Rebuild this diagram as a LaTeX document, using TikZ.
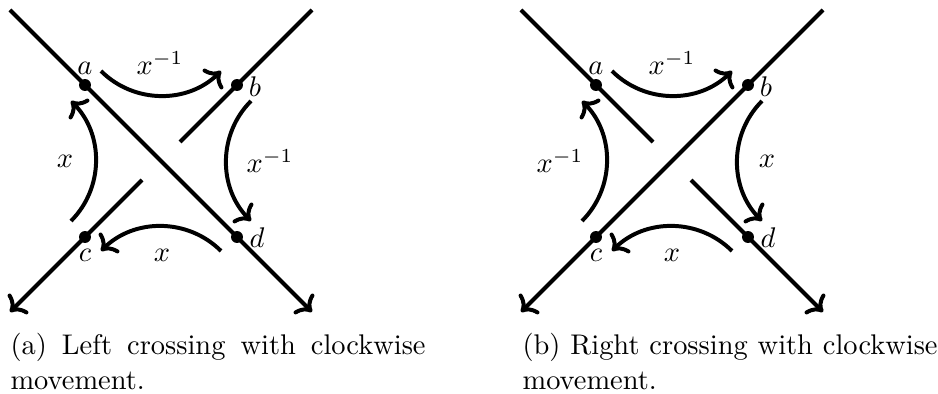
\documentclass[tikz,border=0pt]{standalone}
\usetikzlibrary{arrows.meta}
\newcommand\crossbase{%
  \coordinate (nw) at (-151,-151);
  \coordinate (ne) at (151,-151);
  \coordinate (sw) at (-151,151);
  \coordinate (se) at (151,151);
  \coordinate (gnw) at (-19,-19);
  \coordinate (gne) at (19,-19);
  \coordinate (gsw) at (-19,19);
  \coordinate (gse) at (19,19);
  \node[dot] (a) at (-76,-76) {};
  \node[dot] (b) at (76,-76) {};
  \node[dot] (c) at (-76,76) {};
  \node[dot] (d) at (76,76) {};
  \node[anchor=base] (la) at (-76,-86) {$a$};
  \node[anchor=base] (lb) at (94,-64) {$b$};
  \node[anchor=base] (lc) at (-76,101) {$c$};
  \node[anchor=base] (ld) at (96,87) {$d$};
  \coordinate (tA) at (-60,-90);
  \coordinate (tB) at (60,-90);
  \coordinate (rA) at (90,-60);
  \coordinate (rB) at (90,60);
  \coordinate (bA) at (60,90);
  \coordinate (bB) at (-60,90);
  \coordinate (lA) at (-90,60);
  \coordinate (lB) at (-90,-60);
  \draw[move] (tA) .. controls +(33,33) and +(-33,33) .. (tB);
  \draw[move] (rA) .. controls +(-33,33) and +(-33,-33) .. (rB);
  \draw[move] (bA) .. controls +(-33,-33) and +(33,-33) .. (bB);
  \draw[move] (lA) .. controls +(33,-33) and +(33,33) .. (lB);
}
\begin{document}
\begin{tikzpicture}[x=0.3518pt,y=-0.3518pt,
  strand/.style={line width=1.4pt},
  move/.style={line width=1.4pt,->},
  dot/.style={circle,fill,inner sep=0pt,minimum size=4.2pt},
  capt/.style={anchor=base west,inner sep=0pt}]
\useasboundingbox (0,0) rectangle (938,394);
% (a) left crossing
\begin{scope}[shift={(161,161)},name prefix=L-]
  \crossbase
  \draw[strand,->] (nw) -- (se);
  \draw[strand] (ne) -- (gne);
  \draw[strand,->] (gsw) -- (sw);
  \node[anchor=base] (xt) at (-1,-86) {$x^{-1}$};
  \node[anchor=base] (xl) at (-96,7) {$x$};
  \node[anchor=base] (xr) at (109,12) {$x^{-1}$};
  \node[anchor=base] (xb) at (1,101) {$x$};
\end{scope}
% (b) right crossing
\begin{scope}[shift={(672,161)},name prefix=R-]
  \crossbase
  \draw[strand,->] (ne) -- (sw);
  \draw[strand] (nw) -- (gnw);
  \draw[strand,->] (gse) -- (se);
  \node[anchor=base] (xt) at (0,-86) {$x^{-1}$};
  \node[anchor=base] (xl) at (-112,12) {$x^{-1}$};
  \node[anchor=base] (xr) at (95,7) {$x$};
  \node[anchor=base] (xb) at (0,101) {$x$};
\end{scope}
\node[capt] (capa) at (10,355) {\parbox[t]{146pt}{(a) Left crossing with clockwise movement.}};
\node[capt] (capb) at (522,355) {\parbox[t]{146pt}{(b) Right crossing with clockwise movement.}};
\end{tikzpicture}
\end{document}
